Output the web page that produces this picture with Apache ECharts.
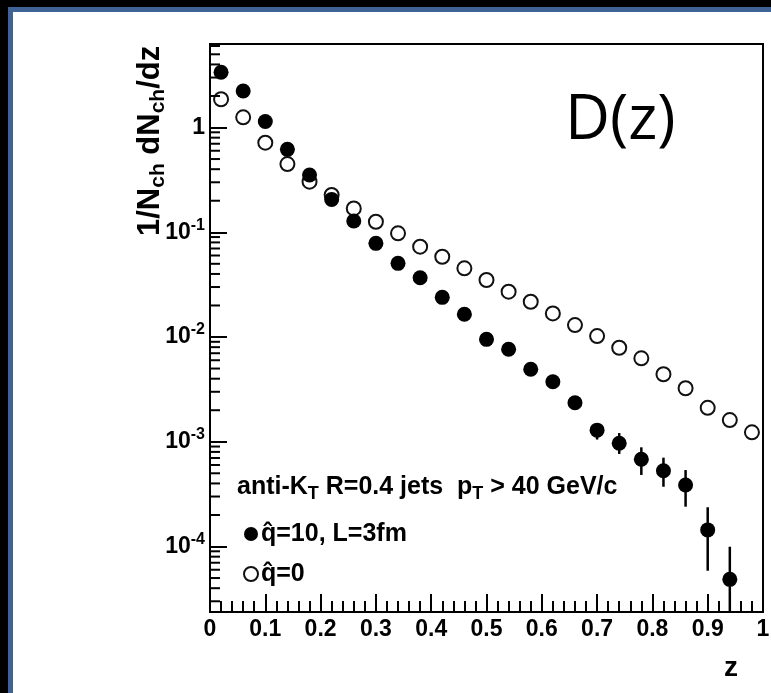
<!DOCTYPE html>
<html><head><meta charset="utf-8">
<script src="https://cdn.jsdelivr.net/npm/echarts@6/dist/echarts.min.js"></script>
<style>html,body{margin:0;padding:0;background:#000;overflow:hidden}#c{width:771px;height:693px}</style>
</head><body><div id="c"></div>
<script>
// bin centres in z
const zCenters = [0.02,0.06,0.10,0.14,0.18,0.22,0.26,0.30,0.34,0.38,0.42,0.46,0.50,0.54,0.58,0.62,0.66,0.70,0.74,0.78,0.82,0.86,0.90,0.94,0.98];
// q-hat = 10, L = 3 fm (filled)
const quenched = [3.37,2.23,1.14,0.619,0.352,0.206,0.128,0.0784,0.0505,0.0368,0.0239,0.0165,0.0095,0.00763,0.00492,0.00374,0.00236,0.00129,0.000967,0.00068,0.000529,0.000387,0.000144,0.0000486,null];
const quenchedErrLow  = [null,null,null,null,null,null,null,null,null,null,null,null,null,null,null,null,null,0.00105,0.000765,0.000482,0.000372,0.00024,0.0000587,0.00001,null];
const quenchedErrHigh = [null,null,null,null,null,null,null,null,null,null,null,null,null,null,null,null,null,0.0015,0.00121,0.000885,0.000705,0.000537,0.000237,0.0000995,null];
// q-hat = 0 (open)
const vacuum = [1.86,1.25,0.716,0.448,0.304,0.227,0.169,0.126,0.0977,0.0728,0.0584,0.0453,0.035,0.0271,0.0217,0.0168,0.0130,0.0102,0.0079,0.00626,0.00441,0.00324,0.00211,0.00161,0.00123];
// log-axis minor tick values
const yMinorTicks = [3e-5,4e-5,5e-5,6e-5,7e-5,8e-5,9e-5,
  2e-4,3e-4,4e-4,5e-4,6e-4,7e-4,8e-4,9e-4,
  2e-3,3e-3,4e-3,5e-3,6e-3,7e-3,8e-3,9e-3,
  0.02,0.03,0.04,0.05,0.06,0.07,0.08,0.09,
  0.2,0.3,0.4,0.5,0.6,0.7,0.8,0.9,
  2,3,4,5,6];
const seriesNames = ['q\u0302=10, L=3fm', 'q\u0302=0'];
const headerText = 'anti-K{s|T} R=0.4 jets  p{s|T} > 40 GeV/c';
const yTitle = '1/N{s|ch} dN{s|ch}/dz';
const xTitle = 'z';
const panelTitle = 'D(z)';

const FONT = '"Liberation Sans", Arial, sans-serif';
const chart = echarts.init(document.getElementById('c'), null, {renderer: 'canvas'});

const quenchedData = [], vacuumData = [], errData = [];
zCenters.forEach((z, i) => {
  if (quenched[i] != null) quenchedData.push([z, quenched[i]]);
  if (vacuum[i] != null) vacuumData.push([z, vacuum[i]]);
  if (quenchedErrLow[i] != null) errData.push([z, quenchedErrLow[i], quenchedErrHigh[i]]);
});

function yLabel(v) {
  const e = Math.log10(v);
  const r = Math.round(e);
  if (Math.abs(e - r) > 1e-6) return '';
  if (r === 0) return '{b|1}';
  return '{b|10}{s|' + r + '}';
}

chart.setOption({
  animation: false,
  backgroundColor: 'transparent',
  graphic: [
    {type: 'rect', z: -10, silent: true, shape: {x: 10.5, y: 9.5, width: 800, height: 720},
     style: {fill: '#fff', stroke: '#3f6396', lineWidth: 5}},
    {type: 'text', z: 10, x: 150, y: 236, rotation: Math.PI / 2,
     style: {text: yTitle, fontSize: 31, fontWeight: 'bold', fontFamily: FONT, fill: '#000',
       textAlign: 'left', textVerticalAlign: 'middle',
       rich: {s: {fontSize: 21, fontWeight: 'bold', fontFamily: FONT, padding: [16, 0, 0, 0]}}}},
    {type: 'text', z: 10, x: 565, y: 121,
     style: {text: panelTitle, fontSize: 62, fontFamily: '"Open Sans", sans-serif', fill: '#000',
       textAlign: 'left', textVerticalAlign: 'middle'}},
    {type: 'text', z: 10, x: 237, y: 487,
     style: {text: headerText, fontSize: 25, fontWeight: 'bold', fontFamily: FONT, fill: '#000',
       textAlign: 'left', textVerticalAlign: 'middle',
       rich: {s: {fontSize: 18, fontWeight: 'bold', fontFamily: FONT, padding: [15, 0, 0, 0]}}}},
    {type: 'text', z: 10, x: 731, y: 668,
     style: {text: xTitle, fontSize: 28, fontWeight: 'bold', fontFamily: FONT, fill: '#000',
       textAlign: 'center', textVerticalAlign: 'middle'}}
  ],
  grid: {left: 210, right: 8, top: 44, bottom: 81, show: true, borderColor: '#000', borderWidth: 2,
         backgroundColor: 'transparent', containLabel: false, outerBoundsMode: 'none'},
  legend: {
    left: 238, top: 515, orient: 'vertical', itemWidth: 14, itemHeight: 14, itemGap: 12,
    selectedMode: false,
    textStyle: {fontSize: 25, fontWeight: 'bold', fontFamily: FONT, color: '#000', lineHeight: 28, padding: [0,0,0,-2]},
    data: [{name: seriesNames[0], icon: 'circle'}, {name: seriesNames[1], icon: 'emptyCircle'}]
  },
  xAxis: {
    type: 'value', min: 0, max: 1, interval: 0.1,
    axisLine: {lineStyle: {color: '#000', width: 2}},
    axisTick: {inside: true, length: 18, lineStyle: {color: '#000', width: 2}},
    minorTick: {show: true, splitNumber: 5, length: 11, lineStyle: {color: '#000', width: 2}},
    splitLine: {show: false},
    axisLabel: {margin: 6, fontSize: 23, fontWeight: 'bold', fontFamily: FONT, color: '#000'}
  },
  yAxis: {
    type: 'log', logBase: 10, min: 2.37e-5, max: 6.27,
    axisLine: {lineStyle: {color: '#000', width: 2}},
    axisTick: {inside: true, length: 17, lineStyle: {color: '#000', width: 2}},
    splitLine: {show: false},
    axisLabel: {
      margin: 5, showMinLabel: false, showMaxLabel: false, formatter: yLabel,
      rich: {
        b: {fontSize: 23, fontWeight: 'bold', fontFamily: FONT, color: '#000'},
        s: {fontSize: 16, fontWeight: 'bold', fontFamily: FONT, color: '#000', padding: [0, 0, 14, 0]}
      }
    }
  },
  series: [
    {type: 'custom', name: 'minorTicks', silent: true, clip: false, z: 5,
     data: yMinorTicks.map(v => [0, v]), encode: {x: 0, y: 1},
     renderItem: function (params, api) {
       const p = api.coord([api.value(0), api.value(1)]);
       return {type: 'line', shape: {x1: p[0], y1: p[1], x2: p[0] + 10, y2: p[1]},
               style: {stroke: '#000', lineWidth: 2}};
     }},
    {type: 'scatter', name: seriesNames[1], data: vacuumData, symbol: 'emptyCircle', symbolSize: 14,
     itemStyle: {color: '#111', borderColor: '#111', borderWidth: 2, opacity: 1}, z: 3, silent: true},
    {type: 'custom', name: 'errors', silent: true, clip: true, z: 4,
     data: errData, encode: {x: 0, y: [1, 2]},
     renderItem: function (params, api) {
       const a = api.coord([api.value(0), api.value(1)]);
       const b = api.coord([api.value(0), api.value(2)]);
       return {type: 'line', shape: {x1: a[0], y1: a[1], x2: b[0], y2: b[1]},
               style: {stroke: '#000', lineWidth: 2.5}};
     }},
    {type: 'scatter', name: seriesNames[0], data: quenchedData, symbol: 'circle', symbolSize: 15,
     itemStyle: {color: '#000', opacity: 1}, z: 5, silent: true}
  ]
});
</script></body></html>
